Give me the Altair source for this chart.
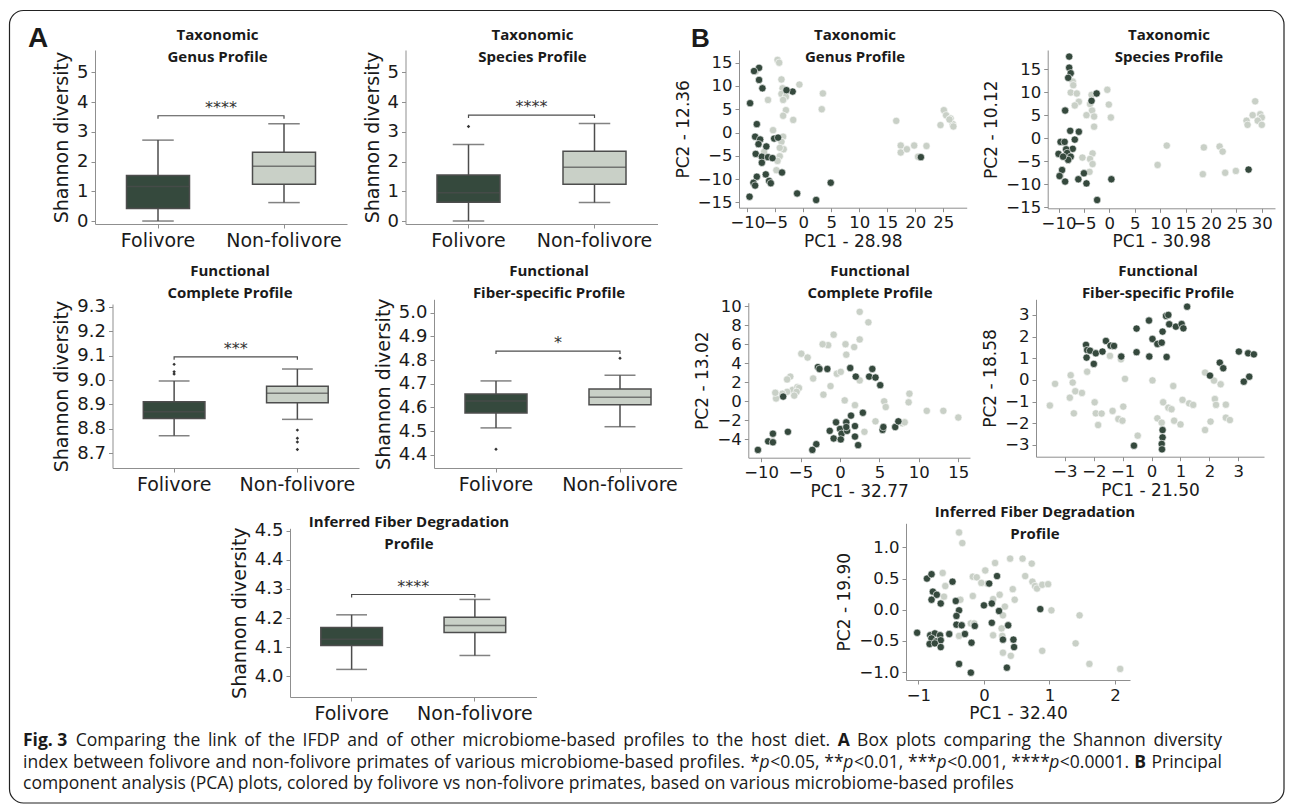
import altair as alt
import pandas as pd

# ------------------------------------------------------------------ data
GROUPS = ["Folivore", "Non-folivore"]

# Panel A - Shannon diversity box statistics, [Folivore, Non-folivore]
genus_lo = [0.00, 0.62]
genus_q1 = [0.42, 1.24]
genus_med = [1.16, 1.84]
genus_q3 = [1.53, 2.31]
genus_hi = [2.72, 3.27]
genus_out_fol = []
genus_out_non = []

species_lo = [0.00, 0.62]
species_q1 = [0.63, 1.24]
species_med = [0.95, 1.81]
species_q3 = [1.55, 2.35]
species_hi = [2.57, 3.28]
species_out_fol = [3.18]
species_out_non = []

complete_lo = [8.772, 8.839]
complete_q1 = [8.843, 8.907]
complete_med = [8.870, 8.946]
complete_q3 = [8.911, 8.974]
complete_hi = [8.996, 9.045]
complete_out_fol = [9.064, 9.034, 9.025]
complete_out_non = [8.795, 8.762, 8.746, 8.716]

fiber_lo = [4.514, 4.519]
fiber_q1 = [4.577, 4.612]
fiber_med = [4.627, 4.643]
fiber_q3 = [4.657, 4.678]
fiber_hi = [4.712, 4.736]
fiber_out_fol = [4.424]
fiber_out_non = [4.808]

ifdp_lo = [4.023, 4.071]
ifdp_q1 = [4.105, 4.150]
ifdp_med = [4.127, 4.174]
ifdp_q3 = [4.167, 4.203]
ifdp_hi = [4.211, 4.264]
ifdp_out_fol = []
ifdp_out_non = []

bracket_heights = [3.54, 3.56, 9.095, 4.838, 4.281]
bracket_arms = [0.10, 0.10, 0.012, 0.013, 0.010]
bracket_labels = ["****", "****", "***", "*", "****"]

# Panel B - PCA coordinates
gen_fol_pc1 = [-7.9, -8.8, -7.9, -7.3, -9.5, -1.9, -3.0, -8.3, -8.6, -7.7, -8.0, -6.6, -8.5, -7.4, -6.3, -5.5,
               -7.4, -5.2, -4.5, -3.8, -6.7, -8.3, -6.1, -5.8, -8.9, -8.6, 4.9, -1.1, 2.3, -9.6, 21.0]
gen_fol_pc2 = [13.9, 13.2, 11.3, 9.5, 6.3, 8.8, 9.1, 1.8, -0.9, -1.5, -2.5, -3.0, -4.6, -5.2, -5.3, -5.5,
               -6.5, -1.3, -1.1, -8.6, -9.0, -9.5, -10.4, -10.9, -10.8, -11.4, -10.8, -13.1, -14.5, -13.8, -5.3]
gen_non_pc1 = [-4.6, -4.3, -8.5, -3.9, -0.7, -3.7, -3.9, -3.1, 3.5, -6.3, -3.6, -3.1, -3.6, -1.8, 3.3, -5.4,
               -3.6, -3.9, -3.5, -4.2, -4.2, -4.6, -7.0, -4.8, 16.6, 17.4, 17.4, 18.5, 19.8, 22.0, 20.5, 25.1,
               25.5, 26.3, 26.7, 26.8, 24.5, 26.1]
gen_non_pc2 = [15.6, 15.0, 13.1, 11.4, 10.3, 9.5, 8.3, 7.7, 8.4, 7.0, 7.0, 4.8, 3.6, 2.7, 5.0, 0.5,
               -0.9, -2.0, -3.6, -3.3, -5.1, -6.1, -4.2, -8.1, 2.5, -2.8, -4.3, -3.6, -2.8, -2.9, -5.2, 4.8,
               3.7, 3.0, 1.8, 1.3, 1.6, 2.8]

spe_fol_pc1 = [-7.9, -7.9, -7.6, -8.1, -8.7, -2.5, -3.5, -7.7, -6.0, -6.8, -9.6, -8.8, -7.2, -8.5, -10.0,
               -8.3, -7.6, -8.1, -9.1, -9.3, -9.8, -8.7, -6.1, -5.0, -4.5, -2.4, 0.4, 27.4]
spe_fol_pc2 = [17.7, 15.3, 14.1, 13.1, 6.0, 9.7, 8.1, 1.6, 1.4, -0.3, -0.8, -0.8, -2.3, -2.4, -3.4,
               -3.2, -4.0, -4.7, -4.0, -6.9, -8.2, -9.4, -8.9, -7.6, -9.8, -13.4, -8.9, -6.8]
spe_non_pc1 = [-7.2, -7.1, -7.6, -6.4, -6.0, -6.8, -3.5, -3.8, -3.4, -4.5, -3.0, -3.0, -0.4, -0.1, 0.3,
               -3.3, -3.8, -3.3, -5.3, -3.9, -8.3, 11.3, 9.5, 18.6, 21.7, 22.3, 18.4, 22.8, 24.9, 28.7,
               28.2, 27.0, 29.7, 30.0, 29.2, 30.0, 27.2, -9.6]
spe_non_pc2 = [12.3, 11.5, 9.9, 9.7, 7.9, 7.1, 9.4, 7.4, 6.0, 5.0, 4.7, 2.5, 10.5, 7.3, 4.5,
               -3.3, -4.5, -5.6, -4.2, -7.3, -3.7, -1.6, -5.8, -2.0, -1.8, -2.9, -7.8, -7.5, -7.1, 8.0,
               5.0, 3.8, 5.2, 4.5, 3.8, 2.9, 2.9, -8.2]

com_fol_pc1 = [-2.8, -2.6, -1.6, 1.3, 2.0, 3.7, 4.1, 4.5, 5.1, -7.2, 2.9, 1.4, 0.8, -0.5, -1.3, 0.0, 0.2,
               0.9, -0.8, 0.1, 1.9, 0.8, 1.9, 2.3, 5.4, 5.5, 7.0, 7.4, -6.6, -8.5, -9.1, -8.5, -3.0, -3.5, -10.4]
com_fol_pc2 = [3.6, 3.4, 3.4, 3.5, 2.6, 2.6, 3.4, 2.5, 1.7, 0.5, -1.2, -1.5, -2.2, -2.2, -3.1, -2.9, -3.4,
               -3.1, -3.9, -4.0, -3.7, -2.7, -2.6, -4.6, -3.0, -2.7, -2.7, -2.1, -3.2, -3.4, -4.2, -4.3, -4.5, -5.1, -5.1]
com_non_pc1 = [2.5, 3.6, -0.8, 2.5, 0.7, -1.5, -2.2, 1.8, -4.9, -4.1, -0.4, 0.1, 0.8, 2.5, -3.4, -1.2, -2.1,
               -6.3, -6.7, -6.0, -6.7, -5.4, -5.2, -5.5, -5.8, -7.3, -8.1, -8.2, 0.6, 1.9, 5.6, 5.8, 8.7, 8.8,
               11.0, 13.1, 15.0, 4.5, 3.1, 5.4, 7.9, 8.2]
com_non_pc2 = [9.4, 8.3, 7.0, 6.5, 6.0, 5.9, 6.0, 5.7, 5.0, 4.6, 2.9, 3.1, 4.9, 2.2, 2.4, 1.6, 0.7,
               2.6, 2.3, 1.2, 1.0, 1.5, 1.4, 1.0, 0.6, 0.8, 0.3, 0.9, 0.1, -0.4, 0.0, -0.6, -0.1, 0.8,
               -1.0, -1.0, -1.7, -2.1, -3.2, -2.9, -2.3, -2.2]

fib_fol_pc1 = [-2.27, -2.23, -2.13, -1.93, -2.25, -2.0, -1.70, -1.58, -1.42, -1.30, -1.05, -0.52, -0.52,
               -0.09, -0.08, 0.03, 0.20, 0.35, 0.38, 0.50, 0.58, 0.61, 0.52, 0.84, 1.04, 1.10, 1.23, 2.36,
               2.48, 2.02, 3.02, 3.34, 3.54, 3.38, 3.19, 0.38, 0.38, 0.35, 0.36, -0.61]
fib_fol_pc2 = [1.62, 1.38, 1.35, 1.23, 1.03, 0.74, 1.31, 1.80, 1.58, 1.57, 1.08, 2.37, 1.28,
               2.74, 1.08, 1.89, 1.66, 1.72, 2.23, 2.95, 3.0, 2.57, 1.06, 2.46, 2.58, 2.38, 3.38, 0.80,
               0.54, 0.20, 1.31, 1.23, 1.18, 0.15, -0.08, -2.31, -2.65, -2.95, -3.20, -3.03]
fib_non_pc1 = [-2.80, -3.34, -3.52, -2.83, -2.73, -2.64, -2.41, -2.69, -2.23, -1.44, -1.06, -0.92, -1.97,
               -1.93, -1.73, -1.85, -1.35, -1.15, -1.01, -0.98, -0.48, 0.03, 0.40, 0.58, 0.69, 0.75, 0.20,
               0.35, 0.78, 1.00, 1.07, 1.30, 1.44, 2.16, 2.39, 2.19, 2.23, 2.57, 2.57, 2.71, 2.04, 1.85, 1.85]
fib_non_pc2 = [0.22, -0.18, -1.18, -0.82, -0.12, -0.52, -0.60, -1.54, 0.38, 1.11, 0.95, 0.05, -1.03,
               -1.54, -1.55, -2.08, -1.43, -1.80, -1.88, -1.23, -2.57, -0.02, -1.03, -1.28, -1.35, -0.28, -1.77,
               -1.97, -1.88, -2.05, -0.92, -1.08, -1.15, -0.03, -0.20, -0.88, -1.15, -1.14, -1.74, -1.85, -1.92,
               -2.31, 0.34]

ifd_fol_pc1 = [-0.87, -0.80, -0.78, -0.72, -0.80, -0.66, -0.48, -0.43, -0.38, -1.02, -0.82, -0.75, -0.67,
               -0.80, -0.83, -0.73, -0.66, -0.75, -0.66, -0.53, -0.42, -0.42, -0.34, -0.29, -0.14, 0.00, 0.08,
               0.12, 0.20, 0.12, 0.23, 0.37, 0.29, 0.45, 0.46, -0.19, -0.38, -0.20, 0.35, 0.86]
ifd_fol_pc2 = [0.50, 0.57, 0.29, 0.24, 0.16, 0.10, 0.45, 0.14, -0.01, -0.37, -0.41, -0.38, -0.41,
               -0.46, -0.55, -0.51, -0.49, -0.54, -0.60, -0.39, -0.10, -0.24, -0.25, -0.39, -0.26, 0.07, 0.42,
               0.10, 0.54, -0.21, -0.02, -0.25, -0.48, -0.48, -0.60, -0.53, -0.87, -1.01, -0.93, 0.01]
ifd_non_pc1 = [-0.38, -0.33, -0.63, -0.59, -0.61, -0.36, -0.17, -0.11, 0.02, 0.05, -0.04, 0.17, 0.14, 0.24,
               0.40, 0.44, 0.47, 0.32, 0.29, 0.59, 0.63, 0.73, 0.74, 0.78, 0.81, 0.89, 0.98, 1.03, 1.46, -0.17,
               -0.38, -0.20, -0.15, 0.14, 0.27, 0.28, 0.29, 0.41, 0.89, 1.61, 2.08, 1.40]
ifd_non_pc2 = [1.24, 1.07, 0.59, 0.38, 0.21, 0.16, 0.53, 0.52, 0.63, 0.42, 0.43, 0.75, 0.17, 0.24,
               0.82, 0.33, 0.16, 0.05, -0.09, 0.82, 0.54, 0.74, 0.45, 0.38, 0.34, 0.40, 0.41, -0.01, -0.09, 0.22,
               -0.42, -0.22, -0.22, -0.41, -0.30, -0.42, -0.69, -0.74, -0.66, -0.87, -0.95, -0.54]

# ------------------------------------------------------------------ style / layout
W, H = 1277, 796
OX, OY = 8, 8
DARK = "#35493d"
LIGHT = "#c9d0c7"
LINE = "#4d4d4d"
AXIS_C = "#8f8f8f"
TXT = "#1a1a1a"
TICK_FONT = "DejaVu Sans"
TITLE_FONT = "Open Sans"

color_scale = alt.Scale(domain=GROUPS, range=[DARK, LIGHT])

AX = dict(grid=False, domainColor=AXIS_C, tickColor=AXIS_C, tickSize=4, labelColor=TXT, titleColor=TXT,
          labelFont=TICK_FONT, titleFont=TICK_FONT, titleFontWeight="normal", labelOverlap=False,
          labelFlush=False, labelPadding=3)


def vx(x):
    return x - OX


def vy(y):
    return y - OY


def text_mark(txt, x, y, size, font=TITLE_FONT, weight="normal", style="normal",
              align="center", baseline="middle", color=TXT):
    return alt.Chart(alt.Data(values=[{}])).mark_text(
        text=txt, font=font, fontSize=size, fontWeight=weight, fontStyle=style,
        align=align, baseline=baseline, color=color
    ).encode(x=alt.value(vx(x)), y=alt.value(vy(y)))


def box_panel(lo, q1, med, q3, hi, out_fol, out_non, k, frame):
    """Each piece is its own layer; identical explicit domain+range make the scales coincide."""
    x0, x1, ybot, ytop, ydom, yticks, yfmt = frame
    step = (x1 - x0) / 2.0
    stats = pd.DataFrame({"group": GROUPS, "lo": lo, "q1": q1, "med": med, "q3": q3, "hi": hi})
    outl = pd.DataFrame({"group": ["Folivore"] * len(out_fol) + ["Non-folivore"] * len(out_non),
                         "value": out_fol + out_non})
    b, a = bracket_heights[k], bracket_arms[k]
    brk = pd.DataFrame({"group": ["Folivore", "Folivore", "Non-folivore", "Non-folivore"],
                        "value": [b - a, b, b, b - a], "ord": [0, 1, 2, 3]})
    sig = pd.DataFrame({"group": ["Folivore"], "value": [b]})

    def xs():
        return alt.Scale(type="band", domain=GROUPS, range=[vx(x0), vx(x1)], paddingInner=0.5, paddingOuter=0.25)

    def ys():
        return alt.Scale(domain=ydom, range=[vy(ybot), vy(ytop)], nice=False, zero=False)

    xaxis = alt.Axis(orient="bottom", offset=vy(ybot) - H, title=None, labelFontSize=19, labelAngle=0, **AX)
    yaxis = alt.Axis(orient="left", offset=-vx(x0), title="Shannon diversity", values=yticks, format=yfmt,
                     labelFontSize=18, titleFontSize=19, titlePadding=5, **AX)

    def Xn():
        return alt.X("group:N", scale=xs(), axis=None)

    def Yn(f):
        return alt.Y(f, scale=ys(), axis=None)

    parts = []
    parts.append(alt.Chart(stats).mark_rule(color=LINE, strokeWidth=1.5).encode(
        x=alt.X("group:N", scale=xs(), axis=xaxis),
        y=alt.Y("lo:Q", scale=ys(), axis=yaxis), y2="hi:Q"))
    parts.append(alt.Chart(stats).mark_bar(stroke=LINE, strokeWidth=1.5).encode(
        x=Xn(), y=Yn("q1:Q"), y2="q3:Q",
        color=alt.Color("group:N", scale=color_scale, legend=None)))
    parts.append(alt.Chart(stats).mark_tick(color=LINE, thickness=1.5, size=step * 0.5, orient="horizontal").encode(
        x=Xn(), y=Yn("med:Q")))
    parts.append(alt.Chart(stats).mark_tick(color=LINE, thickness=1.5, size=step * 0.25, orient="horizontal").encode(
        x=Xn(), y=Yn("lo:Q")))
    parts.append(alt.Chart(stats).mark_tick(color=LINE, thickness=1.5, size=step * 0.25, orient="horizontal").encode(
        x=Xn(), y=Yn("hi:Q")))
    if len(outl):
        parts.append(alt.Chart(outl).mark_point(shape="diamond", filled=True, size=12, color="#333333",
                                                opacity=1).encode(x=Xn(), y=Yn("value:Q")))
    parts.append(alt.Chart(brk).mark_line(color=LINE, strokeWidth=1.2).encode(
        x=Xn(), y=Yn("value:Q"), order=alt.Order("ord:Q")))
    parts.append(alt.Chart(sig).mark_text(text=bracket_labels[k], dx=step / 2.0, dy=-3, fontSize=16,
                                          font=TICK_FONT, color="#333333", baseline="alphabetic").encode(
        x=Xn(), y=Yn("value:Q")))
    return parts


def scatter_panel(f1, f2, n1, n2, frame, xtitle, ytitle):
    x0, x1, xdom, xticks, xfmt, ybot, ytop, ydom, yticks, yfmt = frame
    df = pd.DataFrame({"pc1": n1 + f1, "pc2": n2 + f2,
                       "group": ["Non-folivore"] * len(n1) + ["Folivore"] * len(f1)})
    xs = alt.Scale(domain=xdom, range=[vx(x0), vx(x1)], nice=False, zero=False)
    ys = alt.Scale(domain=ydom, range=[vy(ybot), vy(ytop)], nice=False, zero=False)
    xaxis = alt.Axis(orient="bottom", offset=vy(ybot) - H, title=xtitle, values=xticks, format=xfmt,
                     labelFontSize=16.5, titleFontSize=17, titlePadding=2, **AX)
    yaxis = alt.Axis(orient="left", offset=-vx(x0), title=ytitle, values=yticks, format=yfmt,
                     labelFontSize=16.5, titleFontSize=17, titlePadding=5, **AX)
    return alt.Chart(df).mark_circle(size=54, opacity=1, stroke="white", strokeWidth=0.6).encode(
        x=alt.X("pc1:Q", scale=xs, axis=xaxis),
        y=alt.Y("pc2:Q", scale=ys, axis=yaxis),
        color=alt.Color("group:N", scale=color_scale, legend=None))


layers = []

# rounded frame
layers.append(alt.Chart(alt.Data(values=[{}])).mark_rect(
    filled=False, stroke="#222222", strokeWidth=1.2, cornerRadius=14).encode(
    x=alt.value(1.5), x2=alt.value(W - 1), y=alt.value(2.5), y2=alt.value(H - 1)))

# Panel A
box_frames = [
    (95, 347, 224, 50, [-0.1, 5.75], [0, 1, 2, 3, 4, 5], "d"),
    (405.5, 657.5, 224, 50, [-0.1, 5.75], [0, 1, 2, 3, 4, 5], "d"),
    (112.5, 359, 468, 304, [8.64, 9.311], [8.7, 8.8, 8.9, 9.0, 9.1, 9.2, 9.3], ".1f"),
    (434, 682, 468, 299.3, [4.345, 5.056], [4.4, 4.5, 4.6, 4.7, 4.8, 4.9, 5.0], ".1f"),
    (290, 536.5, 697, 528.3, [3.928, 4.509], [4.0, 4.1, 4.2, 4.3, 4.4, 4.5], ".1f"),
]
box_data = [
    (genus_lo, genus_q1, genus_med, genus_q3, genus_hi, genus_out_fol, genus_out_non),
    (species_lo, species_q1, species_med, species_q3, species_hi, species_out_fol, species_out_non),
    (complete_lo, complete_q1, complete_med, complete_q3, complete_hi, complete_out_fol, complete_out_non),
    (fiber_lo, fiber_q1, fiber_med, fiber_q3, fiber_hi, fiber_out_fol, fiber_out_non),
    (ifdp_lo, ifdp_q1, ifdp_med, ifdp_q3, ifdp_hi, ifdp_out_fol, ifdp_out_non),
]
for k, (d, fr) in enumerate(zip(box_data, box_frames)):
    layers.extend(box_panel(*d, k, fr))

# Panel B
scatter_frames = [
    (739, 966.7, [-11.48, 29.18], [-10, -5, 0, 5, 10, 15, 20, 25], "d",
     207.7, 50, [-16.16, 17.73], [-15, -10, -5, 0, 5, 10, 15], "d"),
    (1047.7, 1275, [-12.13, 32.6], [-10, -5, 0, 5, 10, 15, 20, 25, 30], "d",
     208.3, 50, [-15.2, 19.13], [-15, -10, -5, 0, 5, 10, 15], "d"),
    (748.3, 970, [-11.62, 16.48], [-10, -5, 0, 5, 10, 15], "d",
     457.7, 302.7, [-5.92, 10.36], [-4, -2, 0, 2, 4, 6, 8, 10], "d"),
    (1036, 1264, [-4.0, 3.89], [-3, -2, -1, 0, 1, 2, 3], "d",
     456.7, 299.3, [-3.54, 3.72], [-3, -2, -1, 0, 1, 2, 3], "d"),
    (906, 1130, [-1.19, 2.23], [-1, 0, 1, 2], "d",
     680, 523.3, [-1.128, 1.387], [-1.0, -0.5, 0.0, 0.5, 1.0], ".1f"),
]
scatter_data = [
    (gen_fol_pc1, gen_fol_pc2, gen_non_pc1, gen_non_pc2, "PC1 - 28.98", "PC2 - 12.36"),
    (spe_fol_pc1, spe_fol_pc2, spe_non_pc1, spe_non_pc2, "PC1 - 30.98", "PC2 - 10.12"),
    (com_fol_pc1, com_fol_pc2, com_non_pc1, com_non_pc2, "PC1 - 32.77", "PC2 - 13.02"),
    (fib_fol_pc1, fib_fol_pc2, fib_non_pc1, fib_non_pc2, "PC1 - 21.50", "PC2 - 18.58"),
    (ifd_fol_pc1, ifd_fol_pc2, ifd_non_pc1, ifd_non_pc2, "PC1 - 32.40", "PC2 - 19.90"),
]
for (f1, f2, n1, n2, xt, yt), fr in zip(scatter_data, scatter_frames):
    layers.append(scatter_panel(f1, f2, n1, n2, fr, xt, yt))

# subplot titles
titles = [
    ("Taxonomic", "Genus Profile", 217.5, 35, 57),
    ("Taxonomic", "Species Profile", 532.5, 35, 57),
    ("Functional", "Complete Profile", 230, 271, 293),
    ("Functional", "Fiber-specific Profile", 549, 271, 293),
    ("Inferred Fiber Degradation", "Profile", 409, 522, 544),
    ("Taxonomic", "Genus Profile", 855, 35, 57),
    ("Taxonomic", "Species Profile", 1169, 35, 57),
    ("Functional", "Complete Profile", 870, 271, 293),
    ("Functional", "Fiber-specific Profile", 1158, 271, 293),
    ("Inferred Fiber Degradation", "Profile", 1035, 512, 534),
]
for t1, t2, cx, y1, y2 in titles:
    layers.append(text_mark(t1, cx, y1, 15, weight="bold"))
    layers.append(text_mark(t2, cx, y2, 15, weight="bold"))

# panel letters
layers.append(text_mark("A", 28, 47, 28, font="Liberation Sans", weight="bold", align="left", baseline="alphabetic"))
layers.append(text_mark("B", 691, 47, 26, font="Liberation Sans", weight="bold", align="left", baseline="alphabetic"))

# caption (justified first two lines, word by word)
OPEN_SANS = {' ': 532, '\u00a0': 532, '!': 547, '(': 590, ')': 590, '*': 1108, ',': 502, '-': 659, '.': 545,
             '<': 1171, 'A': 1296, 'B': 1327, 'C': 1292, 'D': 1493, 'F': 1057, 'I': 571, 'P': 1233, 'S': 1124,
             'a': 1139, 'b': 1255, 'c': 975, 'd': 1255, 'e': 1149, 'f': 694, 'g': 1122, 'h': 1257,
             'i': 518, 'j': 518, 'k': 1075, 'l': 518, 'm': 1905, 'n': 1257, 'o': 1237, 'p': 1255,
             'q': 1255, 'r': 836, 's': 977, 't': 723, 'u': 1257, 'v': 1026, 'w': 1593, 'x': 1073,
             'y': 1028, 'z': 977}


def run_width(s, style, fs):
    w = sum(OPEN_SANS.get(ch, 1171) for ch in s) / 2048.0
    if style == "b":
        w *= 1.07
    return w * fs


def words_of(runs):
    words = [[]]
    for t, s in runs:
        parts = t.split(" ")
        for i, p in enumerate(parts):
            if i > 0:
                words.append([])
            if p:
                words[-1].append((p, s))
    return [w for w in words if w]


def word_width(word, fs):
    return sum(run_width(t, s, fs) for t, s in word)


cap_lines = [
    [("Fig.\u00a03", "b"), ("  Comparing the link of the IFDP and of other microbiome-based profiles to the host diet. ", "r"),
     ("A", "b"), (" Box plots comparing the Shannon diversity", "r")],
    [("index between folivore and non-folivore primates of various microbiome-based profiles. *", "r"),
     ("p", "i"), ("<0.05, **", "r"), ("p", "i"), ("<0.01, ***", "r"), ("p", "i"), ("<0.001, ****", "r"),
     ("p", "i"), ("<0.0001. ", "r"), ("B", "b"), (" Principal", "r")],
    [("component analysis (PCA) plots, colored by folivore vs non-folivore primates, based on various "
      "microbiome-based profiles", "r")],
]
CAP_X0, CAP_X1 = 23, 1222
cap_base = [746, 767.5, 789]
w2 = words_of(cap_lines[1])
nat2 = sum(word_width(w, 1.0) for w in w2) + run_width(" ", "r", 1.0) * (len(w2) - 1)
CAP_FS = min(17.5, (CAP_X1 - CAP_X0 - 8) / nat2)
for li, (runs, yb) in enumerate(zip(cap_lines, cap_base)):
    words = words_of(runs)
    widths = [word_width(w, CAP_FS) for w in words]
    if li < 2:
        gap = (CAP_X1 - CAP_X0 - sum(widths)) / (len(words) - 1)
    else:
        gap = run_width(" ", "r", CAP_FS)
    cur = CAP_X0
    for w, ww in zip(words, widths):
        xpos = cur
        for t, s in w:
            layers.append(text_mark(t, xpos, yb, CAP_FS, font="Open Sans",
                                    weight="bold" if s == "b" else "normal",
                                    style="italic" if s == "i" else "normal",
                                    align="left", baseline="alphabetic"))
            xpos += run_width(t, s, CAP_FS)
        cur += ww + gap

chart = alt.layer(*layers).resolve_scale(x="independent", y="independent").properties(
    width=W, height=H, padding=0, autosize=alt.AutoSizeParams(type="none")
).configure_view(stroke=None)

chart.save("out.html", embed_options={"renderer": "svg", "actions": False})
